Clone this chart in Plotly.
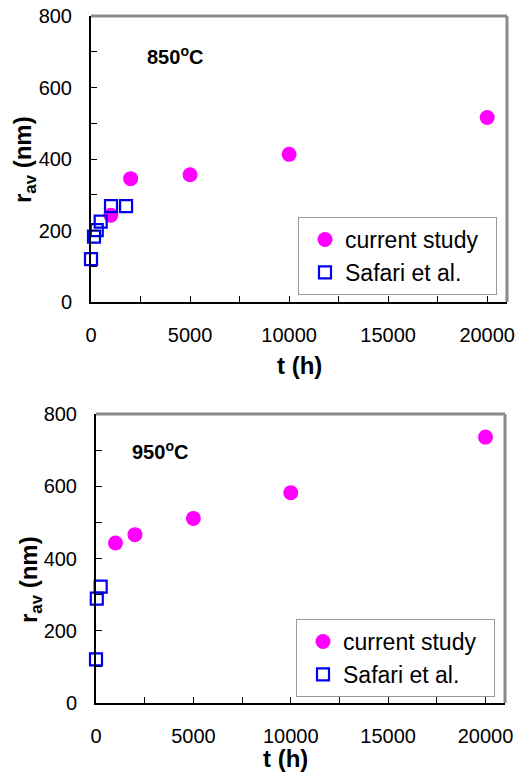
import plotly.graph_objects as go

# 850 °C data
t_850_current = [1000, 2000, 5000, 10000, 20000]
r_850_current = [243, 345, 356, 413, 516]
t_850_safari = [0, 150, 290, 490, 1010, 1770]
r_850_safari = [120, 183, 201, 225, 268, 268]

# 950 °C data
t_950_current = [1000, 2000, 5000, 10000, 20000]
r_950_current = [443, 466, 511, 582, 736]
t_950_safari = [0, 40, 240]
r_950_safari = [121, 289, 322]

temps = ["850<sup>o</sup>C", "950<sup>o</sup>C"]
y_ticks = [0, 200, 400, 600, 800]
x_ticks = [0, 5000, 10000, 15000, 20000]
x_tick_text = ["0", "5000", "10000", "15000", "20000"]

W, H = 519, 774
FONT = "Liberation Sans, Arial, sans-serif"
MAGENTA = "#ff00ff"
BLUE = "#0000ee"
PAD = "\u00a0\u00a0"  # extra room on the right side of the legend box

# plot areas in pixels: (left, right, top, bottom)
boxes = [(91, 507, 16, 302), (96, 505, 414, 703)]

fig = go.Figure()

def px_x(p):
    return p / W

def px_y(p):
    return 1 - p / H

series = [
    (t_850_current, r_850_current, t_850_safari, r_850_safari),
    (t_950_current, r_950_current, t_950_safari, r_950_safari),
]

for i, ((tc, rc, ts, rs), (l, r, t, b)) in enumerate(zip(series, boxes)):
    n = "" if i == 0 else "2"
    xa, ya = "x" + n, "y" + n
    lg = "legend" if i == 0 else "legend2"
    fig.add_trace(go.Scatter(
        x=tc, y=rc, mode="markers", name="current study" + PAD,
        marker=dict(symbol="circle", size=15, color=MAGENTA),
        xaxis=xa, yaxis=ya, legend=lg, cliponaxis=False))
    fig.add_trace(go.Scatter(
        x=ts, y=rs, mode="markers", name="Safari et al.",
        marker=dict(symbol="square-open", size=12, color=BLUE,
                    line=dict(width=2.2, color=BLUE)),
        xaxis=xa, yaxis=ya, legend=lg, cliponaxis=False))

    axis_common = dict(
        showgrid=False, zeroline=False, showline=True, linecolor="black",
        linewidth=2, ticks="inside", ticklen=6, tickwidth=1, tickcolor="black",
        tickfont=dict(family=FONT, size=20, color="black"), automargin=False,
    )
    fig.layout["xaxis" + n] = dict(
        axis_common, domain=[px_x(l), px_x(r)], range=[0, 21000],
        tickvals=x_ticks, ticktext=x_tick_text, ticklabelstandoff=14,
        minor=dict(ticks="inside", dtick=2500, ticklen=6, tickcolor="black"),
        anchor=ya,
    )
    fig.layout["yaxis" + n] = dict(
        axis_common, domain=[px_y(b), px_y(t)], range=[0, 800],
        tickvals=y_ticks, ticklabelstandoff=13,
        minor=dict(ticks="inside", dtick=100, ticklen=6, tickcolor="black"),
        anchor=xa,
    )

    # gray frame on top and right
    fig.add_shape(type="line", xref="paper", yref="paper",
                  x0=px_x(l), x1=px_x(r), y0=px_y(t), y1=px_y(t),
                  line=dict(color="#8a8a8a", width=3))
    fig.add_shape(type="line", xref="paper", yref="paper",
                  x0=px_x(r), x1=px_x(r), y0=px_y(t), y1=px_y(b),
                  line=dict(color="#8a8a8a", width=3))

    # temperature label
    tx, ty = (175, 55) if i == 0 else (160, 450)
    fig.add_annotation(x=px_x(tx), y=px_y(ty), xref="paper", yref="paper",
                       xanchor="center", yanchor="middle",
                       text="<b>" + temps[i] + "</b>", showarrow=False,
                       font=dict(family=FONT, size=20, color="black"))

    # axis titles
    xt_y = 366 if i == 0 else 758
    fig.add_annotation(x=px_x(299 if i == 0 else 285), y=px_y(xt_y),
                       xref="paper", yref="paper",
                       xanchor="center", yanchor="middle",
                       text="<b>t (h)</b>", showarrow=False,
                       font=dict(family=FONT, size=24, color="black"))
    yt_x, yt_y = (25, 160) if i == 0 else (30, 580)
    fig.add_annotation(x=px_x(yt_x), y=px_y(yt_y), xref="paper", yref="paper",
                       xanchor="center", yanchor="middle",
                       text="<b>r<sub>av</sub> (nm)</b>", showarrow=False, textangle=-90,
                       font=dict(family=FONT, size=24, color="black"))

legend_common = dict(
    bgcolor="white", bordercolor="#999999", borderwidth=1,
    font=dict(family=FONT, size=23, color="black"),
    xanchor="left", yanchor="top", itemwidth=30, indentation=6,
)
fig.update_layout(
    width=W, height=H,
    margin=dict(l=0, r=0, t=0, b=0, autoexpand=False),
    paper_bgcolor="white", plot_bgcolor="white",
    showlegend=True,
    legend=dict(legend_common, x=px_x(298), y=px_y(217)),
    legend2=dict(legend_common, x=px_x(296), y=px_y(619)),
)

fig.write_html("out.html")
